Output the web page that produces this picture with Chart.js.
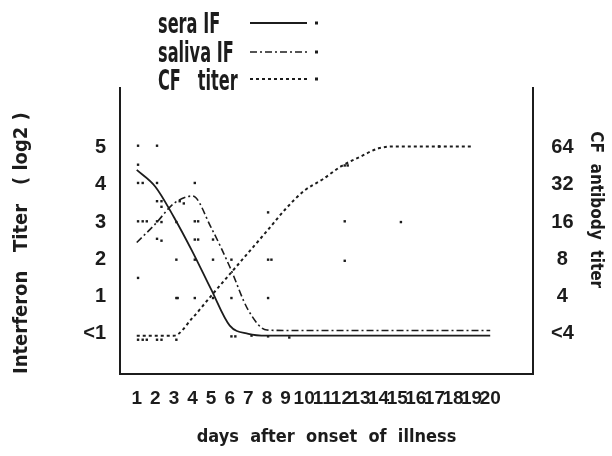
<!DOCTYPE html>
<html>
<head>
<meta charset="utf-8">
<script src="https://cdn.jsdelivr.net/npm/chart.js@4.4.1/dist/chart.umd.min.js"></script>
<style>
html,body{margin:0;padding:0;background:#ffffff;}
#wrap{width:612px;height:456px;}
</style>
</head>
<body>
<div id="wrap"><canvas id="c" width="612" height="456"></canvas></div>
<script>
// ---------- data ----------
const days = [1,2,3,4,5,6,7,8,9,10,11,12,13,14,15,16,17,18,19,20];
const cfDays = [1,2,3,4,5,6,7,8,9,10,11,12,13,14,15,16,17,18,19];
const dayTicks = [1,2,3,4,5,6,7,8,9,10,11,12,13,14,15,16,17,18,19,20];

const ifTicks = [0,1,2,3,4,5];
const ifTickLabels = ['<1','1','2','3','4','5'];
const cfTickLabels = ['<4','4','8','16','32','64'];

const seriesNames = ['sera IF','saliva IF','CF   titer'];

// interferon titer (log2), curves
const seraIF   = [4.4,3.95,3.13,2.2,1.19,0.22,0.0,-0.05,-0.05,-0.05,-0.05,-0.05,-0.05,-0.05,-0.05,-0.05,-0.05,-0.05,-0.05,-0.05];
const salivaIF = [2.45,2.95,3.5,3.7,2.85,1.8,0.63,0.1,0.09,0.09,0.09,0.09,0.09,0.09,0.09,0.09,0.09,0.09,0.09,0.09];
// CF antibody titer, in steps of the right axis (0 = <4, 1 = 4, ... 5 = 64)
const cfTiter  = [-0.05,-0.05,-0.05,0.43,1.02,1.6,2.18,2.76,3.35,3.84,4.15,4.5,4.75,4.98,5.03,5.03,5.03,5.03,5.03];

// individual values [day, level]
const seraPoints = [[1.07,5.05],[2.09,5.05],[1.07,4.54],[1.07,4.05],[1.32,4.05],[2.09,4.05],[4.12,4.05],
  [1.07,3.02],[1.32,3.02],[1.54,3.02],[1.07,1.5]];
const salivaPoints = [[2.09,3.56],[2.33,3.56],[2.33,3.41],[3.31,3.56],[3.53,3.5],[2.09,3.02],[2.33,3.0],
  [3.13,3.0],[4.12,3.02],[4.3,3.02],[2.09,2.55],[2.33,2.5],[4.12,2.53],[4.3,2.53],[5.1,2.53],
  [3.13,1.99],[4.12,1.99],[5.1,1.99],[6.09,1.99],[3.13,0.96],[3.2,0.96],[4.12,0.96],[5.1,0.96],[6.09,0.96]];
const cfPoints = [[8.06,3.26],[8.06,1.99],[8.24,1.99],[8.06,0.96],[12.18,4.52],[12.34,4.52],[12.18,3.02],
  [12.18,1.96],[15.2,3.0],[17.25,5.03],[1.07,-0.16],[1.32,-0.16],[1.54,-0.16],[2.09,-0.16],[2.33,-0.16],
  [3.13,-0.16],[6.09,-0.07],[6.3,-0.07],[7.17,-0.05],[8.06,-0.07],[9.2,-0.1]];

// ---------- styling ----------
const FONT = '"DejaVu Sans Condensed", "Liberation Sans Narrow", sans-serif';
const DIGITS = '"Liberation Sans", Arial, sans-serif';
const INK = '#1c1c1c';

const toXY = (xs, ys) => xs.map((d, i) => ({x: d, y: ys[i]}));
const pairs = arr => arr.map(p => ({x: p[0], y: p[1]}));

const handLegend = {
  id: 'handLegend',
  afterDraw(chart) {
    const ctx = chart.ctx;
    const rows = [
      {dash: [], w: 1.8, lineY: 23, base: 33},
      {dash: [7,3,2,3], w: 1.6, lineY: 52, base: 62},
      {dash: [3,3], w: 2, lineY: 79, base: 90}
    ];
    rows.forEach((r, i) => {
      ctx.save();
      ctx.fillStyle = INK;
      ctx.font = 'bold 29px ' + FONT;
      ctx.textBaseline = 'alphabetic';
      ctx.textAlign = 'left';
      ctx.translate(158, r.base);
      ctx.scale(0.62, 1);
      ctx.fillText(seriesNames[i], 0, 0);
      ctx.restore();

      ctx.save();
      ctx.strokeStyle = INK;
      ctx.lineWidth = r.w;
      ctx.setLineDash(r.dash);
      ctx.beginPath();
      ctx.moveTo(250, r.lineY);
      ctx.lineTo(307, r.lineY);
      ctx.stroke();
      ctx.fillStyle = INK;
      ctx.fillRect(315, r.lineY - 1.5, 3, 3);
      ctx.restore();
    });
  }
};

const lineDS = (label, data, dash, width, axis) => ({
  type: 'line', label, data, yAxisID: axis,
  borderColor: INK, borderWidth: width, borderDash: dash,
  pointRadius: 0, fill: false, cubicInterpolationMode: 'monotone'
});
const dotDS = (label, data) => ({
  type: 'scatter', label, data, yAxisID: 'y',
  pointStyle: 'rect', pointRadius: 1.7, backgroundColor: INK, borderWidth: 0, showLine: false
});

new Chart(document.getElementById('c'), {
  data: {
    datasets: [
      lineDS(seriesNames[0], toXY(days, seraIF), [], 1.8, 'y'),
      lineDS(seriesNames[1], toXY(days, salivaIF), [7,3,2,3], 1.6, 'y'),
      lineDS(seriesNames[2], toXY(cfDays, cfTiter), [3,3], 2, 'y2'),
      dotDS('sera IF values', pairs(seraPoints)),
      dotDS('saliva IF values', pairs(salivaPoints)),
      dotDS('CF titer values', pairs(cfPoints))
    ]
  },
  options: {
    responsive: false,
    animation: false,
    devicePixelRatio: 1,
    layout: {padding: {top: 88, left: 0, right: 0, bottom: 0}},
    plugins: {legend: {display: false}, tooltip: {enabled: false}},
    scales: {
      x: {
        type: 'linear', position: 'bottom', min: 0.1, max: 22.3,
        afterBuildTicks: s => { s.ticks = dayTicks.map(v => ({value: v})); },
        afterFit: s => { s.height = 82; },
        grid: {display: false, drawTicks: false},
        border: {display: true, color: INK, width: 2},
        ticks: {autoSkip: false, maxRotation: 0, minRotation: 0, padding: 13, color: INK,
          font: {family: DIGITS, size: 19, weight: 'bold'}, callback: v => String(v)},
        title: {display: true, text: 'days  after  onset  of  illness', color: INK,
          font: {family: FONT, size: 18, weight: 'bold'}, padding: {top: 0, bottom: 8}}
      },
      y: {
        type: 'linear', position: 'left', min: -1.08, max: 6.6,
        afterBuildTicks: s => { s.ticks = ifTicks.map(v => ({value: v})); },
        afterFit: s => { s.width = 120; },
        grid: {display: false, drawTicks: false},
        border: {display: true, color: INK, width: 2},
        ticks: {padding: 14, color: INK, font: {family: DIGITS, size: 20, weight: 'bold'},
          callback: v => ifTickLabels[ifTicks.indexOf(v)]},
        title: {display: true, text: 'Interferon   Titer   ( log2 )', align: 'start', color: INK,
          font: {family: FONT, size: 20, weight: 'bold'}, padding: {top: 10, bottom: 0}}
      },
      y2: {
        type: 'linear', position: 'right', min: -1.08, max: 6.6,
        afterBuildTicks: s => { s.ticks = ifTicks.map(v => ({value: v})); },
        afterFit: s => { s.width = 79; },
        grid: {display: false, drawTicks: false},
        border: {display: true, color: INK, width: 2},
        ticks: {padding: 18, crossAlign: 'center', color: INK, font: {family: DIGITS, size: 20, weight: 'bold'},
          callback: v => cfTickLabels[ifTicks.indexOf(v)]},
        title: {display: true, text: 'CF  antibody  titer        ', color: INK,
          font: {family: FONT, size: 17, weight: 'bold'}, padding: {top: 6, bottom: 0}}
      }
    }
  },
  plugins: [handLegend]
});
</script>
</body>
</html>
